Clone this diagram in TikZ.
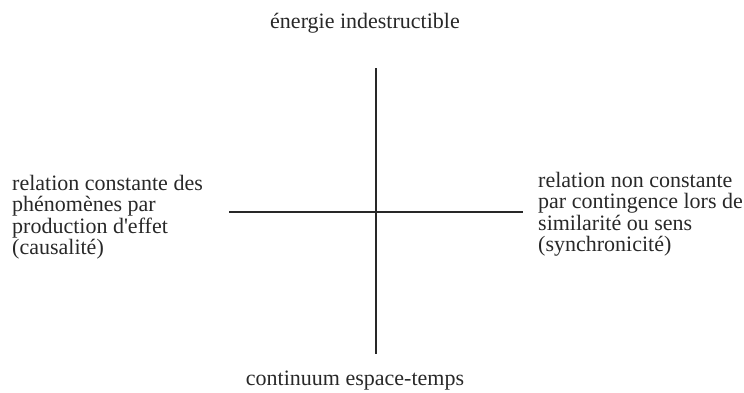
\documentclass[tikz,border=0pt]{standalone}
\usepackage{fontspec}
\setmainfont{Liberation Serif}
\usetikzlibrary{positioning}
\definecolor{AxisGray}{RGB}{40,40,40}

\begin{document}
\begin{tikzpicture}[
    x=1pt, y=-1pt,
    lbl/.style={inner sep=0pt, text=AxisGray, font=\fontsize{22}{21.5}\selectfont},
    blk/.style={lbl, align=left, anchor=north west},
    axis/.style={draw=AxisGray, line width=1.6pt}
]
\useasboundingbox (0,0) rectangle (744,392);

\coordinate (top) at (376,68);
\coordinate (bot) at (376,354);
\coordinate (lft) at (229,212);
\coordinate (rgt) at (523,212);

\node[lbl, anchor=base] (energy) at (365,28) {énergie indestructible};
\node[lbl, anchor=base] (continuum) at (355,385) {continuum espace-temps};
\node[blk] (causal) at (12,175) {relation constante des\\phénomènes par\\production d\textquotesingle effet\\(causalité)};
\node[blk] (synchro) at (538,172) {relation non constante\\par contingence lors de\\similarité ou sens\\(synchronicité)};

\draw[axis] (top) -- (bot);
\draw[axis] (lft) -- (rgt);
\end{tikzpicture}
\end{document}
